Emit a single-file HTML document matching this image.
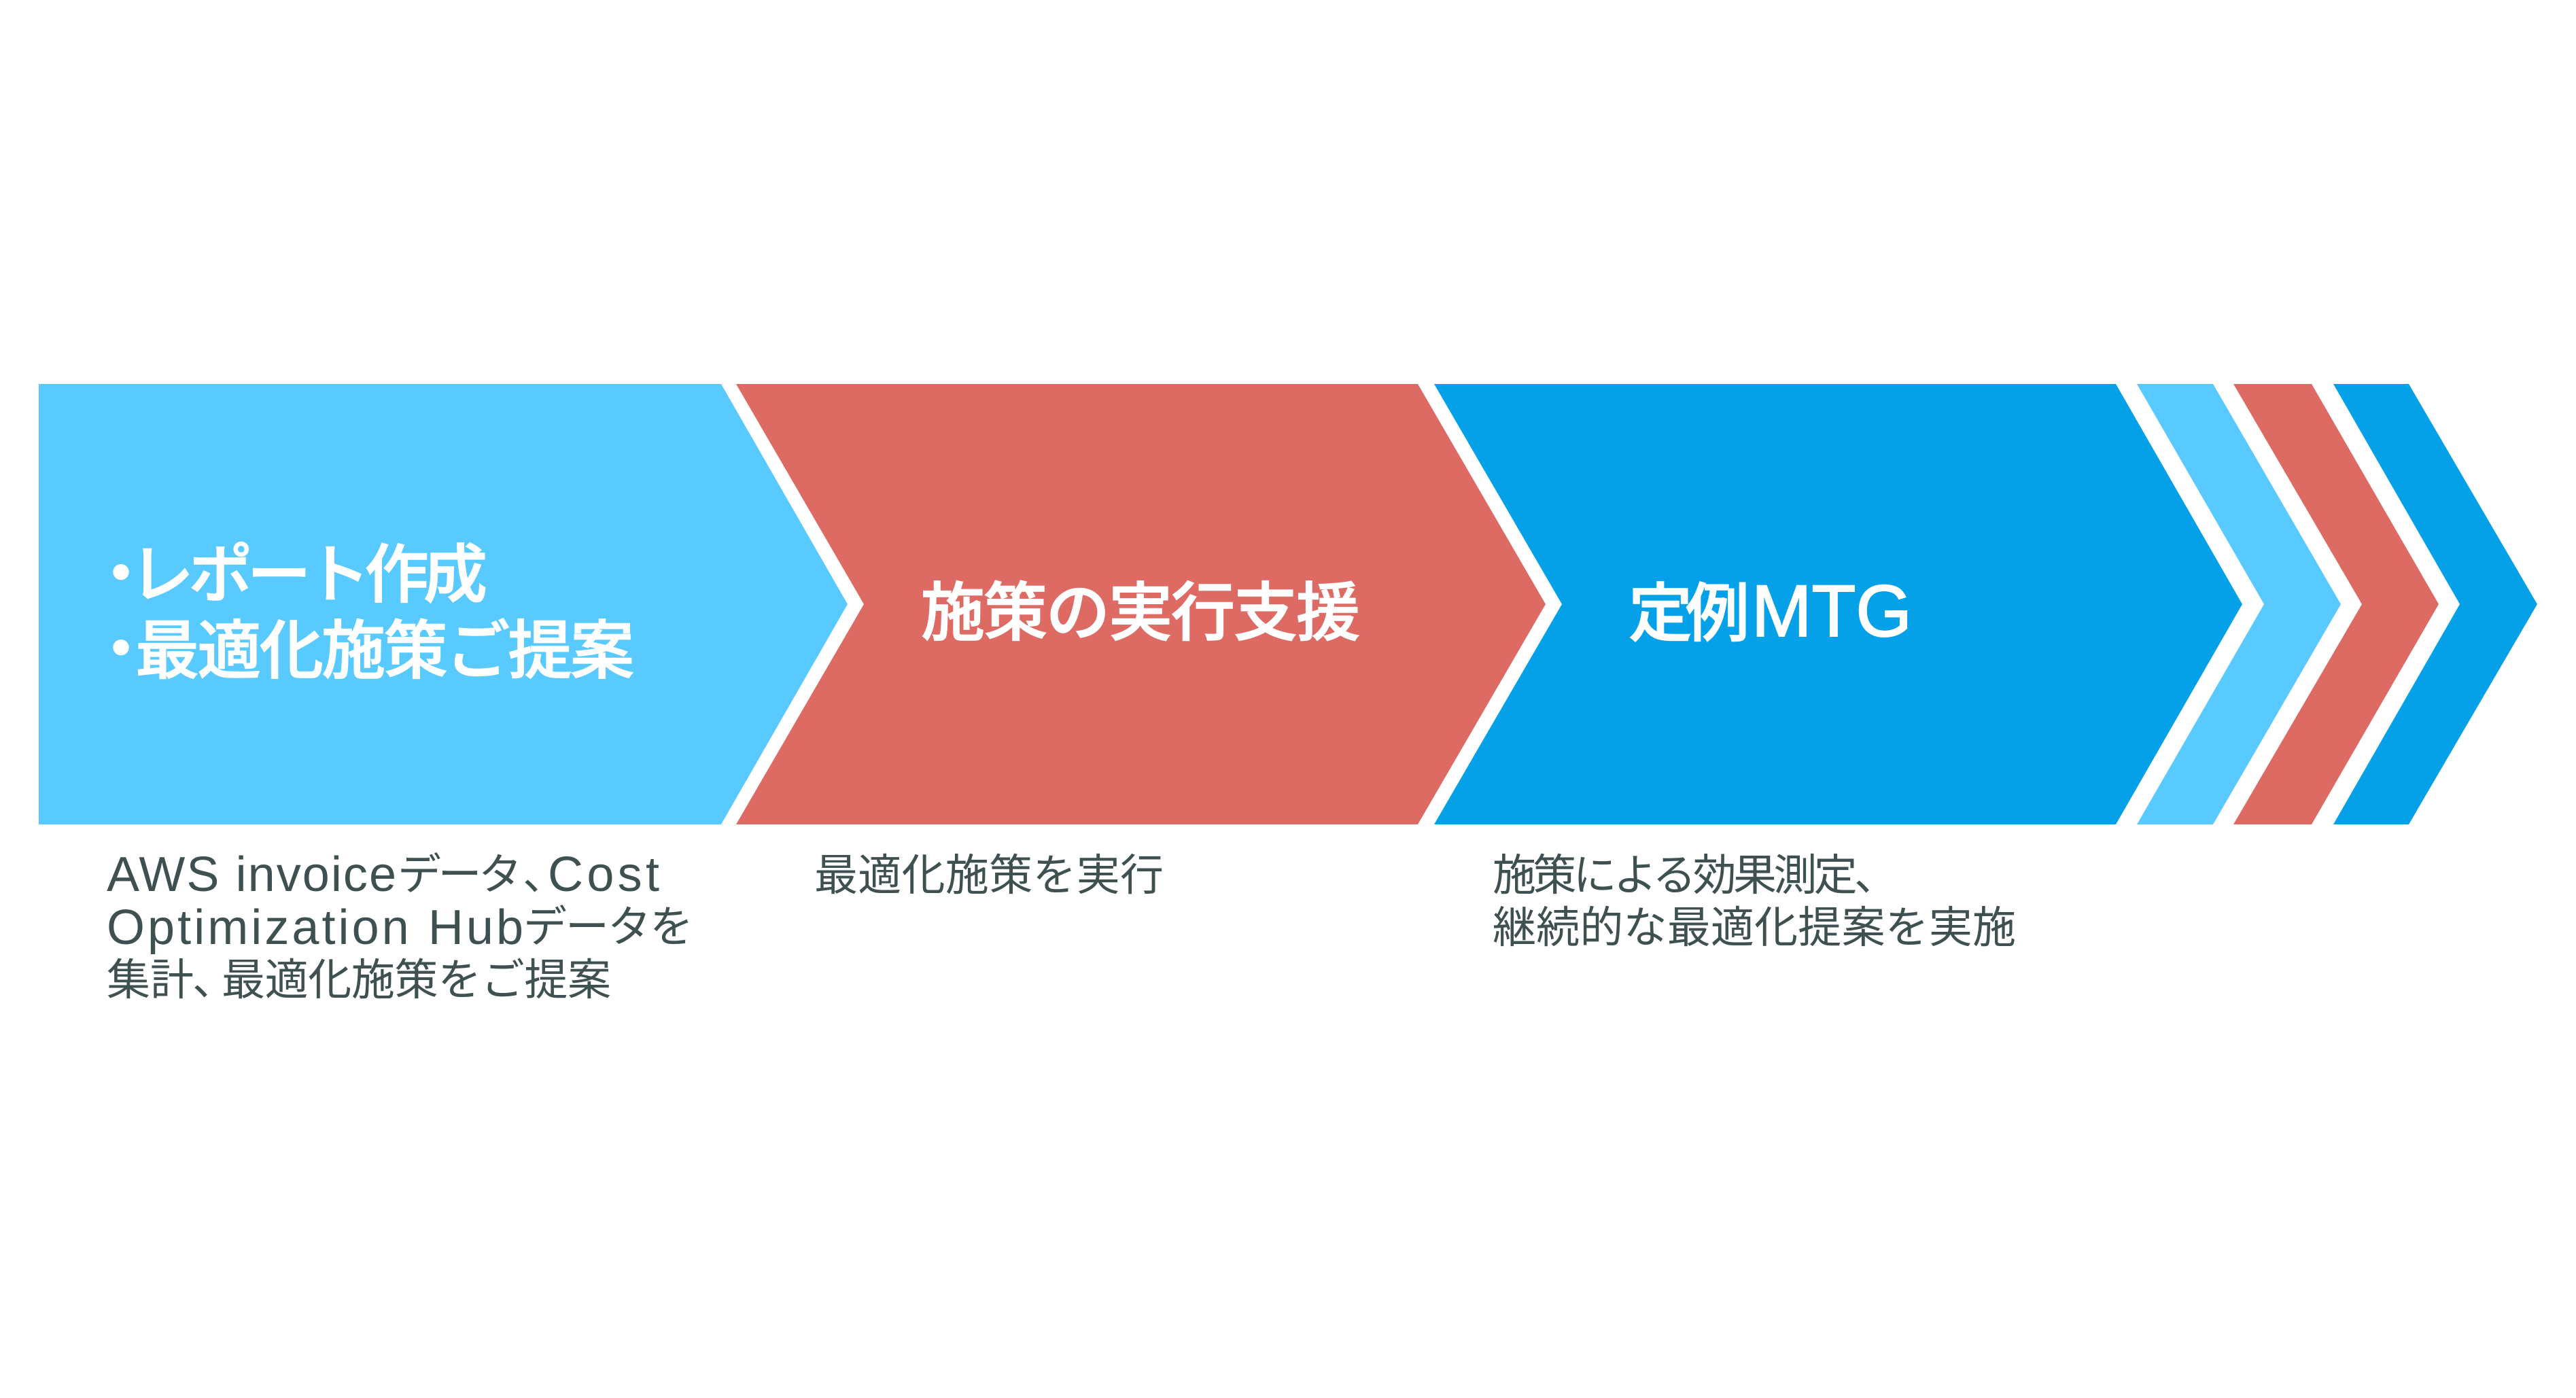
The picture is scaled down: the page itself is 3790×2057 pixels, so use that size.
<!DOCTYPE html>
<html lang="ja">
<head>
<meta charset="utf-8">
<style>
html,body{margin:0;padding:0;background:#fff;width:3790px;height:2057px;overflow:hidden}
svg{display:block}
text{font-family:"Liberation Sans","Noto Sans CJK JP",sans-serif}
.h{font-size:94px;font-weight:500;fill:#fff;stroke:#fff;stroke-width:1.5px}
.m{font-size:108px;font-weight:400;fill:#fff;stroke:#fff;stroke-width:2px}
.s{font-size:64px;font-weight:400;fill:#3f5050}
.l{font-size:72px;font-weight:400;fill:#3f5050}
</style>
</head>
<body>
<svg width="3790" height="2057" viewBox="0 0 3790 2057" xmlns="http://www.w3.org/2000/svg">
<rect width="3790" height="2057" fill="#fff"/>
<polygon fill="#59caff" points="57,565 1061,565 1247,889 1061,1213 57,1213"/>
<polygon fill="#de6a64" points="1083,565 2086,565 2274,889 2086,1213 1083,1213 1271,889"/>
<polygon fill="#04a0e8" points="2110,565 3113,565 3299,889 3113,1213 2110,1213 2298,889"/>
<polygon fill="#59caff" points="3144,565 3256,565 3444,889 3256,1213 3144,1213 3331,889"/>
<polygon fill="#de6a64" points="3286,565 3401,565 3588,889 3401,1213 3286,1213 3475,889"/>
<polygon fill="#04a0e8" points="3433,565 3544,565 3733,889 3544,1213 3433,1213 3619,889"/>

<text class="h" x="131" y="877">・</text>
<text class="h" x="191" y="878" textLength="526" lengthAdjust="spacing">レポート作成</text>
<text class="h" x="131" y="988">・</text>
<text class="h" x="199" y="990" textLength="734" lengthAdjust="spacing">最適化施策ご提案</text>
<text class="h" x="1355" y="934" textLength="646" lengthAdjust="spacing">施策の実行支援</text>
<text class="h" x="2396" y="935" textLength="178" lengthAdjust="spacing">定例</text>
<text class="m" x="2577" y="936" textLength="236" lengthAdjust="spacingAndGlyphs">MTG</text>

<text class="l" x="157" y="1311" textLength="426" lengthAdjust="spacing">AWS invoice</text>
<text class="s" x="585" y="1309" textLength="183" lengthAdjust="spacing">データ</text>
<text class="s" x="769" y="1309">、</text>
<text class="l" x="806" y="1311" textLength="164" lengthAdjust="spacing">Cost</text>
<text class="l" x="157" y="1389" textLength="613" lengthAdjust="spacing">Optimization Hub</text>
<text class="s" x="770" y="1386" textLength="250" lengthAdjust="spacing">データを</text>
<text class="s" x="157" y="1464" textLength="128" lengthAdjust="spacing">集計</text>
<text class="s" x="283" y="1464">、</text>
<text class="s" x="326" y="1464" textLength="573" lengthAdjust="spacing">最適化施策をご提案</text>
<text class="s" x="1198" y="1310" textLength="514" lengthAdjust="spacing">最適化施策を実行</text>
<text class="s" x="2196" y="1310" textLength="596" lengthAdjust="spacing">施策による効果測定、</text>
<text class="s" x="2196" y="1387" textLength="770" lengthAdjust="spacing">継続的な最適化提案を実施</text>
</svg>
</body>
</html>
